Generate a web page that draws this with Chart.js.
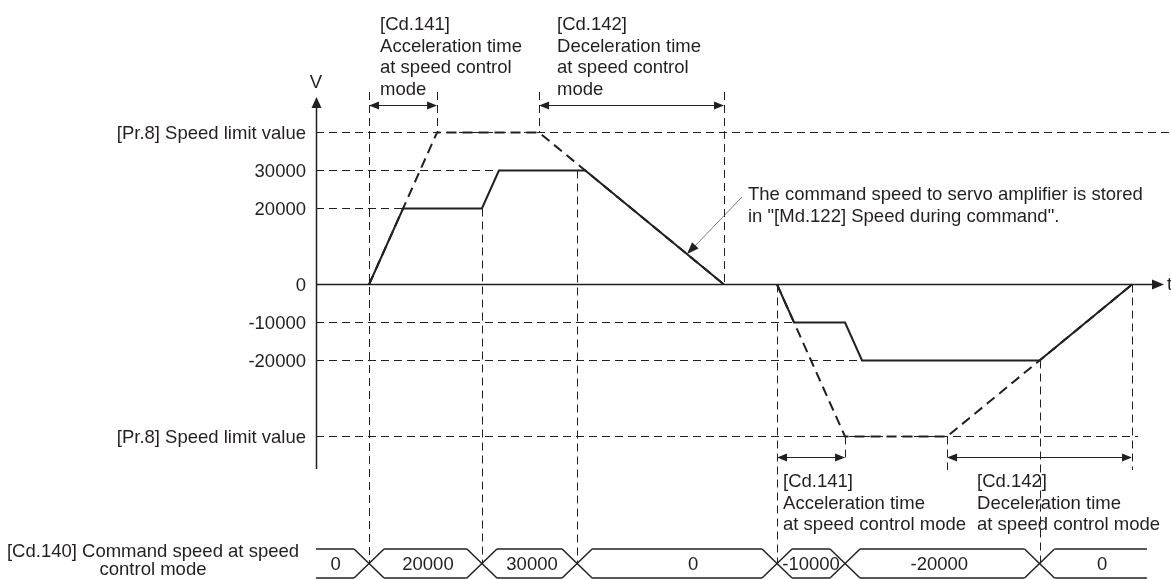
<!DOCTYPE html>
<html>
<head>
<meta charset="utf-8">
<script src="https://cdn.jsdelivr.net/npm/chart.js@4"></script>
<style>
  html, body { margin: 0; padding: 0; background: #fff; }
  canvas { display: block; }
</style>
</head>
<body>
<canvas id="chart" width="1171" height="579"></canvas>
<script>
// tempo em ms, velocidade em unidades de comando
const tickValues = [40000, 30000, 20000, 0, -10000, -20000, -40000];
const tickLabels = ["[Pr.8] Speed limit value", "30000", "20000", "0", "-10000", "-20000", "[Pr.8] Speed limit value"];

// perfil real (linha cheia), lado positivo e lado negativo
const posTimes = [780, 1280, 2440, 2690, 3960, 6000];
const posSpeeds = [0, 20000, 20000, 30000, 30000, 0];
const negTimes = [6780, 7030, 7780, 8030, 10640, 12000];
const negSpeeds = [0, -10000, -10000, -20000, -20000, 0];

// perfil limitado pelo [Pr.8] (tracejado)
const posLimitTimes = [780, 1780, 3280, 6000];
const posLimitSpeeds = [0, 40000, 40000, 0];
const negLimitTimes = [6780, 7780, 9280, 12000];
const negLimitSpeeds = [0, -40000, -40000, 0];

// linhas guia horizontais
const guideSpeeds = [40000, 30000, 20000, -10000, -20000, -40000];
const guideEnds = [12570, 2690, 1280, 7030, 8030, 12090];

// [Cd.140] comando de velocidade
const commandValues = [0, 20000, 30000, 0, -10000, -20000, 0];
const commandChanges = [780, 2440, 3840, 6780, 7780, 10640];
const commandEnd = 12220;

const INK = "#231f20";
const FONT = "18.5px 'Liberation Sans', Arial, sans-serif";

function pts(ts, vs) {
  return ts.map((t, i) => ({ x: t, y: vs[i] }));
}

function speedAt(ts, vs, t) {
  for (let i = 1; i < ts.length; i++) {
    if (t <= ts[i]) {
      const f = (t - ts[i - 1]) / (ts[i] - ts[i - 1]);
      return vs[i - 1] + f * (vs[i] - vs[i - 1]);
    }
  }
  return vs[vs.length - 1];
}

function arrowHead(ctx, x1, y1, x2, y2, len, half) {
  const a = Math.atan2(y2 - y1, x2 - x1);
  const c = Math.cos(a), s = Math.sin(a);
  ctx.beginPath();
  ctx.moveTo(x2, y2);
  ctx.lineTo(x2 - len * c + half * s, y2 - len * s - half * c);
  ctx.lineTo(x2 - len * c - half * s, y2 - len * s + half * c);
  ctx.closePath();
  ctx.fill();
}

function line(ctx, x1, y1, x2, y2) {
  ctx.beginPath();
  ctx.moveTo(x1, y1);
  ctx.lineTo(x2, y2);
  ctx.stroke();
}

// linhas de referencia: topo das cotas, setas, barramento
const ROW = { top: 92, topArrow: 105.5, lowArrow: 457.5, low1: 460, low2: 470, bus: 563.5 };

const verticalGuides = [
  { t: 780, from: "top", to: "bus" },
  { t: 1780, from: "top", to: 40000 },
  { t: 2440, from: 20000, to: "bus" },
  { t: 3280, from: "top", to: 40000 },
  { t: 3840, from: 30000, to: "bus" },
  { t: 6000, from: "top", to: 0 },
  { t: 6780, from: 0, to: "bus" },
  { t: 7780, from: -40000, to: "low1" },
  { t: 9280, from: -40000, to: "low2" },
  { t: 10640, from: -20000, to: "bus" },
  { t: 12000, from: 0, to: "low2" },
];

const diagramPlugin = {
  id: "diagram",
  beforeDatasetsDraw(chart) {
    const { ctx, scales: { x, y } } = chart;
    const py = (v) => (typeof v === "string" ? ROW[v] : y.getPixelForValue(v));
    ctx.save();
    ctx.strokeStyle = INK;
    ctx.lineWidth = 1;
    ctx.setLineDash([8, 5]);
    verticalGuides.forEach((g) => {
      const px = Math.round(x.getPixelForValue(g.t)) + 0.5;
      line(ctx, px, py(g.from), px, py(g.to));
    });
    ctx.setLineDash([]);

    // eixos
    const x0 = Math.round(x.getPixelForValue(0)) + 0.5;
    const y0 = y.getPixelForValue(0);
    ctx.lineWidth = 1.5;
    line(ctx, x0, 469, x0, 100);
    line(ctx, x0, y0, 1160, y0);
    ctx.fillStyle = INK;
    arrowHead(ctx, x0, 200, x0, 97, 11, 5);
    arrowHead(ctx, 1100, y0, 1164, y0, 12, 5);
    ctx.restore();
  },
  afterDatasetsDraw(chart) {
    const { ctx, scales: { x, y } } = chart;
    const px = (t) => x.getPixelForValue(t);
    ctx.save();
    ctx.fillStyle = INK;
    ctx.strokeStyle = INK;
    ctx.font = FONT;

    // rotulos do eixo V
    ctx.textAlign = "right";
    ctx.textBaseline = "middle";
    tickValues.forEach((v, i) => ctx.fillText(tickLabels[i], 306, y.getPixelForValue(v) + 1));

    ctx.textAlign = "center";
    ctx.fillText("V", px(0), 83);
    ctx.textAlign = "left";
    ctx.fillText("t", 1167, y.getPixelForValue(0));

    // cotas de aceleracao / desaceleracao
    ctx.lineWidth = 1.2;
    const dim = (t1, t2, yy) => {
      const a = px(t1), b = px(t2);
      line(ctx, a + 4, yy, b - 4, yy);
      arrowHead(ctx, b, yy, a, yy, 10, 4);
      arrowHead(ctx, a, yy, b, yy, 10, 4);
    };
    dim(780, 1780, ROW.topArrow);
    dim(3280, 6000, ROW.topArrow);
    dim(6780, 7780, ROW.lowArrow);
    dim(9280, 12000, ROW.lowArrow);

    ctx.textBaseline = "alphabetic";
    const block = (lines, left, base) =>
      lines.forEach((s, i) => ctx.fillText(s, left, base + i * 21.5));
    block(["[Cd.141]", "Acceleration time", "at speed control", "mode"], px(780) + 11, 30);
    block(["[Cd.142]", "Deceleration time", "at speed control", "mode"], px(3280) + 18, 30);
    block(["[Cd.141]", "Acceleration time", "at speed control mode"], px(6780) + 6, 487);
    block(["[Cd.142]", "Deceleration time", "at speed control mode"], px(9280) + 30, 487);

    // nota com seta de chamada
    block(["The command speed to servo amplifier is stored", "in \"[Md.122] Speed during command\"."], 748, 200);
    const tTip = 5456;
    const tipX = px(tTip), tipY = y.getPixelForValue(speedAt(posTimes, posSpeeds, tTip));
    ctx.strokeStyle = "#555";
    ctx.lineWidth = 0.8;
    line(ctx, 742, 197, tipX + 6, tipY - 6);
    ctx.fillStyle = INK;
    arrowHead(ctx, 742, 197, tipX, tipY, 12, 4.5);

    // barramento [Cd.140]
    ctx.strokeStyle = INK;
    ctx.lineWidth = 1.5;
    const top = 549, bot = 578, h = 15;
    const edges = [0, ...commandChanges, commandEnd].map(px);
    for (let i = 0; i < commandValues.length; i++) {
      const a = edges[i], b = edges[i + 1];
      const l = i === 0 ? a : a + h;
      const r = i === commandValues.length - 1 ? b : b - h;
      line(ctx, l, top, r, top);
      line(ctx, l, bot, r, bot);
    }
    commandChanges.forEach((t) => {
      const c = px(t);
      line(ctx, c - h, top, c + h, bot);
      line(ctx, c - h, bot, c + h, top);
    });
    const labelShift = [-7, 2.5, 2.5, 16, 0, -3, 9];
    ctx.textAlign = "center";
    ctx.textBaseline = "middle";
    commandValues.forEach((v, i) => {
      const c = (edges[i] + edges[i + 1]) / 2 + labelShift[i];
      ctx.fillText(String(v), c, 565);
    });
    ctx.fillText("[Cd.140] Command speed at speed", 153, 552);
    ctx.fillText("control mode", 153, 570);
    ctx.restore();
  },
};

const profile = (ts, vs, dash) => ({
  data: pts(ts, vs),
  showLine: true,
  borderColor: INK,
  borderWidth: 2,
  borderDash: dash,
  pointRadius: 0,
  clip: false,
});

const guideSets = guideSpeeds.map((v, i) => ({
  data: [{ x: 0, y: v }, { x: guideEnds[i], y: v }],
  showLine: true,
  borderColor: INK,
  borderWidth: 1,
  borderDash: [8, 5],
  pointRadius: 0,
  clip: false,
}));

new Chart(document.getElementById("chart"), {
  type: "scatter",
  data: {
    datasets: [
      profile(posTimes, posSpeeds, []),
      profile(negTimes, negSpeeds, []),
      profile(posLimitTimes, posLimitSpeeds, [10, 6]),
      profile(negLimitTimes, negLimitSpeeds, [10, 6]),
      ...guideSets,
    ],
  },
  options: {
    responsive: false,
    animation: false,
    layout: { padding: { left: 316, right: 5, top: 94.5, bottom: 9.5 } },
    plugins: { legend: { display: false }, tooltip: { enabled: false } },
    scales: {
      x: { type: "linear", min: 0, max: 12500, display: false },
      y: { type: "linear", min: -75000, max: 50000, display: false },
    },
  },
  plugins: [diagramPlugin],
});
</script>
</body>
</html>
